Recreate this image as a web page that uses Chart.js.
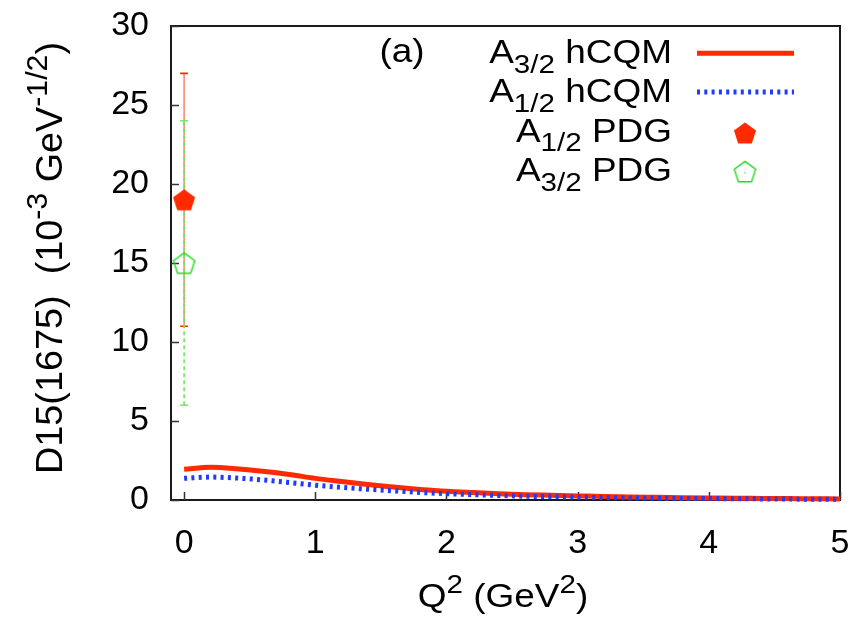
<!DOCTYPE html>
<html>
<head>
<meta charset="utf-8">
<title>D15(1675) helicity amplitudes</title>
<script src="https://cdn.jsdelivr.net/npm/chart.js@4.4.1/dist/chart.umd.min.js"></script>
<style>
  html, body { margin: 0; padding: 0; background: #fff; }
  #wrap { width: 858px; height: 618px; }
</style>
</head>
<body>
<div id="wrap"><canvas id="d15Chart" width="858" height="618"></canvas></div>
<script>
// Q^2 grid (GeV^2) of the hCQM calculation
const q2Grid = [0, 0.2, 0.4, 0.6, 0.8, 1.0, 1.2, 1.4, 1.6, 1.8, 2.0, 2.2, 2.4,
                2.6, 2.8, 3.0, 3.2, 3.4, 3.6, 3.8, 4.0, 4.2, 4.4, 4.6, 4.8, 5.0];
// hCQM amplitudes, 10^-3 GeV^-1/2
const a32Hcqm = [1.94, 2.07, 1.98, 1.82, 1.62, 1.37, 1.17, 0.98, 0.82, 0.67, 0.55, 0.47, 0.40,
                 0.34, 0.30, 0.26, 0.22, 0.19, 0.17, 0.15, 0.13, 0.11, 0.10, 0.09, 0.08, 0.07];
const a12Hcqm = [1.37, 1.45, 1.39, 1.27, 1.11, 0.94, 0.80, 0.68, 0.58, 0.48, 0.40, 0.34, 0.29,
                 0.24, 0.21, 0.18, 0.15, 0.13, 0.11, 0.10, 0.09, 0.08, 0.07, 0.06, 0.05, 0.05];
// PDG values at the photon point
const pdgQ2 = [0];
const pdgA12 = [19];
const pdgA12Err = [8];
const pdgA32 = [15];
const pdgA32Err = [9];

const xTicks = [0, 1, 2, 3, 4, 5];
const yTicks = [0, 5, 10, 15, 20, 25, 30];

const RED = '#ff2a00';
const BLUE = '#1d3cff';
const GREEN = '#1fdc1f';
const FONT = '"Liberation Sans", Arial, Helvetica, sans-serif';
const FS = 33;      // base text size
const SX = 1.12;    // horizontal widening of the hand-drawn labels

// pentagon markers used as point styles
function pentagon(r, fill, stroke, lw, dot) {
  const size = Math.ceil(2 * r + 4);
  const c = document.createElement('canvas');
  c.width = size; c.height = size;
  const g = c.getContext('2d');
  const cx = size / 2, cy = size / 2 + r * 0.1;
  g.beginPath();
  for (let i = 0; i < 5; i++) {
    const a = -Math.PI / 2 + i * 2 * Math.PI / 5;
    const px = cx + r * Math.cos(a), py = cy + r * Math.sin(a);
    if (i === 0) g.moveTo(px, py); else g.lineTo(px, py);
  }
  g.closePath();
  if (fill) { g.fillStyle = fill; g.fill(); }
  if (stroke) { g.strokeStyle = stroke; g.lineWidth = lw; g.stroke(); }
  if (dot) { g.fillStyle = stroke; g.fillRect(cx - 0.5, cy - 0.5, 1.2, 1.2); }
  return c;
}
const filledPent = pentagon(11.6, RED, null, 0, false);
const openPent = pentagon(11.2, null, GREEN, 1.4, false);
const openPentDot = pentagon(11.2, null, GREEN, 1.4, true);

const xy = (xs, ys) => xs.map((x, i) => ({ x: x, y: ys[i] }));

// text with sub/superscripts: parts = [{t, sub|sup}]
function richText(ctx, parts, x, y, size, align, sx) {
  const small = size * 0.8;
  let w = 0;
  parts.forEach(p => {
    ctx.font = (p.sub || p.sup ? small : size) + 'px ' + FONT;
    w += ctx.measureText(p.t).width;
  });
  let start = x;
  if (align === 'right') start = x - w * sx;
  if (align === 'center') start = x - w * sx / 2;
  ctx.save();
  ctx.translate(start, y);
  ctx.scale(sx, 1);
  ctx.fillStyle = '#000';
  ctx.textAlign = 'left';
  ctx.textBaseline = 'alphabetic';
  let px = 0;
  parts.forEach(p => {
    ctx.font = (p.sub || p.sup ? small : size) + 'px ' + FONT;
    const dy = p.sub ? size * 0.3 : (p.sup ? -size * 0.42 : 0);
    ctx.fillText(p.t, px, dy);
    px += ctx.measureText(p.t).width;
  });
  ctx.restore();
}

// frame, inward ticks and PDG error bars under the data
const framePlugin = {
  id: 'frame',
  beforeDatasetsDraw(chart) {
    const { ctx, chartArea: a, scales } = chart;
    ctx.save();
    ctx.strokeStyle = '#1a1a1a';
    ctx.lineWidth = 2;
    ctx.strokeRect(a.left, a.top, a.right - a.left, a.bottom - a.top);
    ctx.lineWidth = 1.5;
    ctx.strokeStyle = '#333';
    ctx.beginPath();
    xTicks.forEach(v => {
      const px = Math.round(scales.x.getPixelForValue(v)) + 0.5;
      ctx.moveTo(px, a.bottom); ctx.lineTo(px, a.bottom - 8);
    });
    yTicks.forEach(v => {
      const py = Math.round(scales.y.getPixelForValue(v)) + 0.5;
      ctx.moveTo(a.left, py); ctx.lineTo(a.left + 8, py);
    });
    ctx.stroke();

    const bar = (q, val, err, lineColor, capColor, dash) => {
      const px = scales.x.getPixelForValue(q);
      const y0 = scales.y.getPixelForValue(val - err);
      const y1 = scales.y.getPixelForValue(val + err);
      ctx.setLineDash(dash);
      ctx.strokeStyle = lineColor;
      ctx.lineWidth = 1.6;
      ctx.beginPath(); ctx.moveTo(px, y0); ctx.lineTo(px, y1); ctx.stroke();
      ctx.setLineDash([]);
      ctx.strokeStyle = capColor;
      ctx.beginPath();
      ctx.moveTo(px - 4, y0); ctx.lineTo(px + 4, y0);
      ctx.moveTo(px - 4, y1); ctx.lineTo(px + 4, y1);
      ctx.stroke();
    };
    pdgQ2.forEach((q, i) => {
      bar(q, pdgA12[i], pdgA12Err[i], '#ff8a78', RED, []);
      bar(q, pdgA32[i], pdgA32Err[i], '#6fe85c', '#7ae86a', [4, 3]);
    });
    ctx.restore();
  }
};

// legend, panel tag and axis titles
const labelsPlugin = {
  id: 'labels',
  afterDraw(chart) {
    const ctx = chart.ctx;
    const right = 672, x0 = 697, x1 = 794, xm = 745;
    const rows = [62.7, 102, 141.5, 181];

    richText(ctx, [{ t: 'A' }, { t: '3/2', sub: true }, { t: ' hCQM' }], right, rows[0], FS, 'right', SX);
    richText(ctx, [{ t: 'A' }, { t: '1/2', sub: true }, { t: ' hCQM' }], right, rows[1], FS, 'right', SX);
    richText(ctx, [{ t: 'A' }, { t: '1/2', sub: true }, { t: ' PDG' }], right, rows[2], FS, 'right', SX);
    richText(ctx, [{ t: 'A' }, { t: '3/2', sub: true }, { t: ' PDG' }], right, rows[3], FS, 'right', SX);

    ctx.save();
    ctx.lineWidth = 5;
    ctx.strokeStyle = RED;
    ctx.beginPath(); ctx.moveTo(x0, rows[0] - 9.5); ctx.lineTo(x1, rows[0] - 9.5); ctx.stroke();
    ctx.strokeStyle = BLUE;
    ctx.setLineDash([3, 4.3]);
    ctx.beginPath(); ctx.moveTo(x0, rows[1] - 10); ctx.lineTo(x1, rows[1] - 10); ctx.stroke();
    ctx.setLineDash([]);
    ctx.drawImage(filledPent, xm - filledPent.width / 2, rows[2] - 8.5 - filledPent.height / 2);
    ctx.drawImage(openPentDot, xm - openPentDot.width / 2, rows[3] - 9.5 - openPentDot.height / 2);
    ctx.restore();

    richText(ctx, [{ t: '(a)' }], 402, 62, FS, 'center', SX);

    richText(ctx, [{ t: 'Q' }, { t: '2', sup: true }, { t: ' (GeV' }, { t: '2', sup: true }, { t: ')' }],
             503, 607, FS, 'center', SX);

    ctx.save();
    ctx.translate(62, 258);
    ctx.rotate(-Math.PI / 2);
    richText(ctx, [{ t: 'D15(1675)  (10' }, { t: '-3', sup: true }, { t: ' GeV' }, { t: '-1/2', sup: true }, { t: ')' }],
             0, 0, 36, 'center', 1.05);
    ctx.restore();
  }
};

new Chart(document.getElementById('d15Chart'), {
  type: 'scatter',
  data: {
    datasets: [
      {
        label: 'A1/2 PDG',
        data: xy(pdgQ2, pdgA12),
        pointStyle: filledPent,
        order: 0
      },
      {
        label: 'A3/2 PDG',
        data: xy(pdgQ2, pdgA32),
        pointStyle: openPent,
        order: 0
      },
      {
        label: 'A1/2 hCQM',
        data: xy(q2Grid, a12Hcqm),
        showLine: true,
        borderColor: BLUE,
        borderWidth: 5,
        borderDash: [3, 4.3],
        pointRadius: 0,
        cubicInterpolationMode: 'monotone',
        clip: 8,
        order: 1
      },
      {
        label: 'A3/2 hCQM',
        data: xy(q2Grid, a32Hcqm),
        showLine: true,
        borderColor: RED,
        borderWidth: 5,
        pointRadius: 0,
        cubicInterpolationMode: 'monotone',
        clip: 8,
        order: 2
      }
    ]
  },
  options: {
    responsive: false,
    animation: false,
    devicePixelRatio: 1,
    layout: { padding: { top: 26, right: 18, left: 0, bottom: 0 } },
    plugins: { legend: { display: false }, tooltip: { enabled: false } },
    scales: {
      x: {
        type: 'linear',
        min: -0.1,
        max: 5,
        afterBuildTicks: s => { s.ticks = xTicks.map(v => ({ value: v })); },
        afterFit: s => { s.height = 118; s.paddingLeft = 0; s.paddingRight = 0; },
        grid: { display: false, drawTicks: false },
        border: { display: false },
        ticks: { color: '#000', padding: 23, font: { family: FONT, size: 34 } }
      },
      y: {
        min: 0,
        max: 30,
        afterBuildTicks: s => { s.ticks = yTicks.map(v => ({ value: v })); },
        afterFit: s => { s.width = 171; s.paddingTop = 0; s.paddingBottom = 0; },
        grid: { display: false, drawTicks: false },
        border: { display: false },
        ticks: { color: '#000', padding: 22, font: { family: FONT, size: 34 } }
      }
    }
  },
  plugins: [framePlugin, labelsPlugin]
});
</script>
</body>
</html>
